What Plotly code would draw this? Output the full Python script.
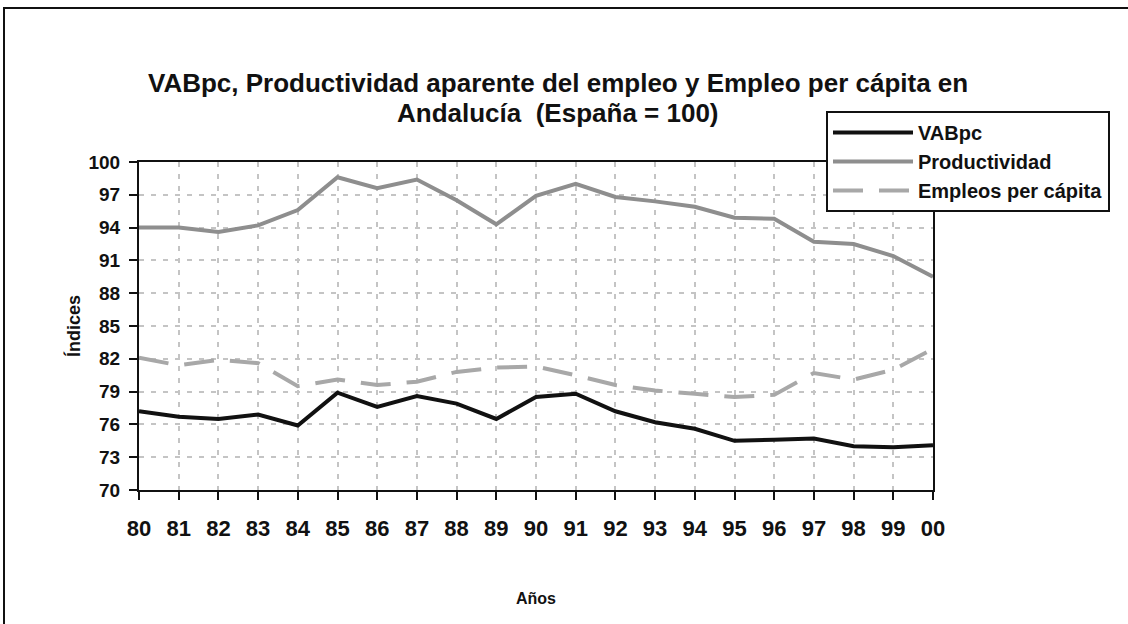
import plotly.graph_objects as go

years = ["80", "81", "82", "83", "84", "85", "86", "87", "88", "89", "90",
         "91", "92", "93", "94", "95", "96", "97", "98", "99", "00"]
vabpc = [77.2, 76.7, 76.5, 76.9, 75.9, 78.9, 77.6, 78.6, 77.9, 76.5, 78.5,
         78.8, 77.2, 76.2, 75.6, 74.5, 74.6, 74.7, 74.0, 73.9, 74.1]
productividad = [94.0, 94.0, 93.6, 94.2, 95.6, 98.6, 97.6, 98.4, 96.5, 94.3, 96.9,
                 98.0, 96.8, 96.4, 95.9, 94.9, 94.8, 92.7, 92.5, 91.4, 89.5]
empleos = [82.1, 81.4, 81.9, 81.6, 79.5, 80.1, 79.6, 79.9, 80.8, 81.2, 81.3,
           80.5, 79.6, 79.1, 78.8, 78.5, 78.7, 80.7, 80.1, 81.0, 82.9]
y_ticks = [70, 73, 76, 79, 82, 85, 88, 91, 94, 97, 100]
title_lines = ["VABpc, Productividad aparente del empleo y Empleo per cápita en",
               "Andalucía  (España = 100)"]

FONT = "Arial, 'Liberation Sans', sans-serif"

fig = go.Figure()
fig.add_trace(go.Scatter(x=years, y=vabpc, mode="lines", name="VABpc",
                         line=dict(color="#111111", width=4)))
fig.add_trace(go.Scatter(x=years, y=productividad, mode="lines", name="Productividad",
                         line=dict(color="#8e8e8e", width=4)))
fig.add_trace(go.Scatter(x=years, y=empleos, mode="lines", name="Empleos per cápita",
                         line=dict(color="#a8a8a8", width=4, dash="30px,16px")))

L, R, T, B = 139, 933, 162, 490
W, H = 1128, 624
pw, ph = R - L, B - T

def px(x):
    return (x - L) / pw

def py(y):
    return (B - y) / ph

fig.update_layout(
    width=W, height=H,
    margin=dict(l=L, r=W - R, t=T, b=H - B, pad=0),
    paper_bgcolor="white", plot_bgcolor="white",
    font=dict(family=FONT, color="#111111"),
    showlegend=True,
    legend=dict(
        x=px(826), y=py(111), xanchor="left", yanchor="top",
        bgcolor="white", bordercolor="#111111", borderwidth=2,
        font=dict(size=20, family=FONT, weight="bold", color="#111111"),
        itemwidth=80, tracegroupgap=0,
    ),
    xaxis=dict(
        type="category", range=[0, 20],
        showline=True, linecolor="#111111", linewidth=2, mirror=True,
        ticks="outside", ticklen=8, tickwidth=2, tickcolor="#111111",
        showgrid=True, gridcolor="#c4c4c4", gridwidth=2, griddash="5px,7px",
        tickfont=dict(size=22, family=FONT, weight="bold", color="#111111"),
        ticklabelstandoff=10,
        title=dict(text="Años", font=dict(size=16, family=FONT, weight="bold"), standoff=52),
        zeroline=False,
    ),
    yaxis=dict(
        range=[70, 100], tickvals=y_ticks,
        showline=True, linecolor="#111111", linewidth=2, mirror=True,
        ticks="outside", ticklen=8, tickwidth=2, tickcolor="#111111",
        showgrid=True, gridcolor="#c4c4c4", gridwidth=2, griddash="5px,7px",
        tickfont=dict(size=19, family=FONT, weight="bold", color="#111111"),
        ticklabelstandoff=5,
        title=dict(text="Índices", font=dict(size=18, family=FONT, weight="bold"), standoff=3),
        zeroline=False,
    ),
)

for text, yc in zip(title_lines, [83, 113]):
    fig.add_annotation(text=text, xref="paper", yref="paper", x=px(558), y=py(yc),
                       xanchor="center", yanchor="middle", showarrow=False,
                       font=dict(size=26, family=FONT, weight="bold", color="#111111"))

fig.add_shape(type="rect", xref="paper", yref="paper",
              x0=px(4), x1=px(1134), y0=py(632), y1=py(8),
              line=dict(color="#111111", width=2), fillcolor="rgba(0,0,0,0)", layer="below")

fig.write_html("out.html", config={"displayModeBar": False},
               post_script="document.body.style.margin='0px';")
